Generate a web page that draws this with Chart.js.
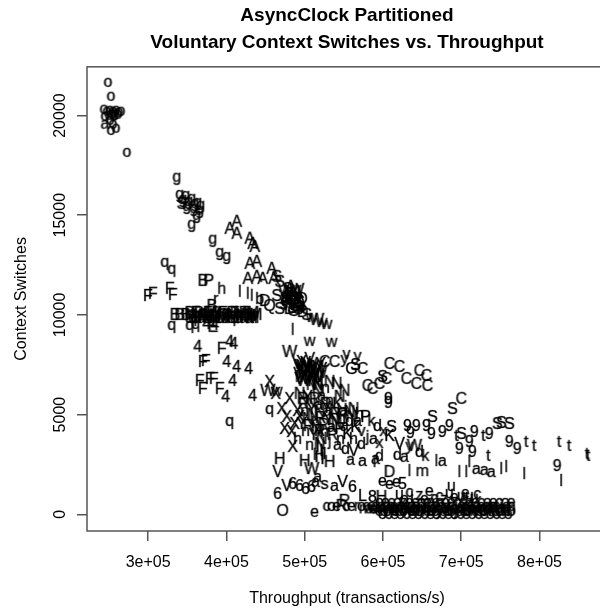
<!DOCTYPE html>
<html>
<head>
<meta charset="utf-8">
<script src="https://cdn.jsdelivr.net/npm/chart.js@4.4.0/dist/chart.umd.min.js"></script>
<style>
  html, body { margin: 0; padding: 0; background: #fff; overflow: hidden; }
  #wrap { width: 600px; height: 612px; overflow: hidden; }
</style>
</head>
<body>
<div id="wrap"><canvas id="chart" width="612" height="612"></canvas></div>
<script>
// axis ticks
const xTicks = [300000, 400000, 500000, 600000, 700000, 800000];
const xTickLabels = ['3e+05', '4e+05', '5e+05', '6e+05', '7e+05', '8e+05'];
const yTicks = [0, 5000, 10000, 15000, 20000];
const yTickLabels = ['0', '5000', '10000', '15000', '20000'];

// [throughput, context switches, plot symbol]
const fastRuns = [
  [248600,21640,'o'],[252400,20940,'o'],[243500,20290,'o'],[247300,20190,'o'],[251100,20240,'o'],
  [255000,20190,'o'],[258800,20240,'o'],[262600,20140,'o'],[244800,19940,'o'],[249900,19990,'o'],
  [253700,20040,'o'],[257500,19990,'o'],[261300,20040,'o'],[265200,20190,'o'],[251200,19740,'o'],
  [255000,19540,'o'],[258800,19340,'o'],[252400,19230,'o'],[272800,18130,'o'],[244800,19540,'a'],
  [256000,20100,'g']
];

const gRuns = [
  [336600,16880,'g'],[340400,16020,'g'],[344300,15770,'g'],[348100,15970,'g'],[351900,15670,'g'],
  [355700,15820,'g'],[359600,15570,'g'],[363400,15620,'g'],[343000,15520,'S'],[349400,15420,'g'],
  [358300,15320,'g'],[365900,15220,'g'],[367200,15470,'g'],[362100,14970,'g'],[355700,14520,'g'],
  [382500,13770,'g'],[391500,13110,'g'],[400400,12910,'g']
];

const leftRuns = [
  [321300,12610,'q'],[330200,12260,'q'],[330200,9450,'q'],[353200,9450,'q'],[360800,9500,'q'],
  [404200,4630,'q'],[455200,5230,'q'],
  [299600,10900,'F'],[306000,11010,'F'],[327700,11260,'F'],[331500,10950,'F'],[369800,7590,'F'],
  [373600,7640,'F'],[365900,6640,'F'],[378700,6740,'F'],[383800,6740,'F'],[369800,6240,'F'],
  [391500,6240,'F'],[394000,8250,'F'],[382500,9350,'E'],
  [363400,8350,'4'],[404200,8600,'4'],[409300,8500,'4'],[400400,7590,'4'],[413100,7340,'4'],
  [428400,7240,'4'],[408000,6640,'4'],[399100,5840,'4'],[433500,5890,'4'],[374900,9500,'4'],
  [385100,9450,'4'],
  [334100,9950,'B'],[340400,9950,'B'],[348100,9950,'B'],[369800,11660,'B'],[377400,11660,'P'],
  [386400,10750,'r'],[381300,10400,'B'],[394000,11260,'h'],[429700,9900,'M'],[437400,9950,'M']
];

const row10k = [
  [353200,10050,'B'],[357000,10050,'a'],[360800,10050,'F'],[364700,10050,'B'],[368500,10050,'q'],
  [372300,10050,'a'],[376100,10050,'F'],[380000,10050,'M'],[383800,10050,'a'],[387600,10050,'B'],
  [391500,10050,'r'],[395300,10050,'F'],[399100,10050,'q'],[402900,10050,'a'],[406800,10050,'B'],
  [410600,10050,'F'],[414400,10050,'a'],[418200,10050,'M'],[422100,10050,'F'],[425900,10050,'a'],
  [429700,10050,'l'],[433500,10050,'M'],
  [353200,9800,'a'],[357000,9800,'q'],[360800,9800,'B'],[364700,9800,'F'],[368500,9800,'a'],
  [372300,9800,'M'],[376100,9800,'B'],[380000,9800,'q'],[383800,9800,'F'],[387600,9800,'a'],
  [391500,9800,'B'],[395300,9800,'M'],[399100,9800,'a'],[402900,9800,'F'],[406800,9800,'q'],
  [410600,9800,'a'],[414400,9800,'B'],[418200,9800,'F'],[422100,9800,'a'],[425900,9800,'M'],
  [429700,9800,'a'],[433500,9800,'M'],[437400,9800,'l'],
  [355100,9930,'M'],[362700,9930,'a'],[370400,9930,'B'],[378000,9930,'a'],[385700,9930,'M'],
  [393300,9930,'F'],[401000,9930,'B'],[408600,9930,'M'],[416300,9930,'a'],[423900,9930,'B'],
  [431600,9930,'a']
];

const peakRuns = [
  [413100,14620,'A'],[404200,14270,'A'],[413100,14020,'A'],[429700,13770,'A'],[433500,13510,'A'],
  [436100,13360,'A'],[429700,12510,'A'],[438700,12610,'A'],[427200,11760,'A'],[438700,11860,'A'],
  [446300,11760,'A'],[457800,12260,'A'],[460300,11760,'A'],[464200,11860,'S'],[468000,11610,'S'],
  [417000,11110,'l'],[427200,11010,'l'],[432300,10910,'l'],[484600,9200,'l'],
  [442500,10750,'b'],[448900,10650,'D'],[455200,10400,'Q'],[464200,10900,'S'],[468000,10250,'S'],
  [475600,11160,'W'],[479500,11000,'b'],[483300,10850,'S'],[487100,10750,'Q'],[478200,10650,'A'],
  [483300,10500,'s'],[488400,10400,'G'],[492200,10250,'S'],[480700,10250,'D'],[475600,10750,'K'],
  [485800,11100,'W'],[490900,10900,'b'],[493500,10600,'S'],[473100,10500,'s'],[482000,11360,'A'],
  [489700,11200,'W'],[496000,10750,'Q'],[496000,10350,'s'],
  [476900,10950,'A'],[482000,10700,'S'],[487100,10950,'b'],[492200,10550,'Q'],[479500,10450,'W'],
  [484600,10300,'S'],[489700,10700,'A'],[474300,10850,'s'],[494800,10450,'b'],[485800,10150,'G'],
  [478200,11250,'S'],[490900,11100,'A'],
  [497300,10100,'D'],[502400,9950,'S'],[508800,9850,'w'],[515200,9700,'W'],[521600,9600,'w'],
  [527900,9500,'w']
];

const midRuns = [
  [506300,8650,'w'],[534300,8600,'w'],[480700,8090,'W'],[553400,7990,'v'],[567500,7890,'y'],
  [550900,7740,'y'],
  [490900,7490,'V'],[496000,7590,'Y'],[501100,7540,'V'],[506300,7440,'W'],[511400,7340,'V'],
  [516500,7340,'M'],[521600,7240,'V'],[493500,7240,'Y'],[498600,7140,'V'],[503700,7140,'W'],
  [508800,7040,'V'],[513900,6940,'Y'],[519000,6840,'V'],[496000,6840,'M'],[501100,6740,'V'],
  [506300,6640,'I'],[511400,6740,'V'],[516500,6540,'N'],[492200,6990,'V'],[520300,7490,'Y'],
  [506300,7740,'V'],[499900,7340,'W'],
  [493500,7390,'V'],[498600,7390,'W'],[503700,7340,'V'],[508800,7240,'Y'],[513900,7140,'V'],
  [519000,7040,'W'],[496000,7040,'V'],[501100,6940,'Y'],[506300,6840,'V'],[511400,6940,'M'],
  [516500,6740,'V'],[498600,6640,'W'],[508800,6440,'N'],[493500,6740,'V'],
  [531800,6590,'N'],[540800,6490,'N'],[550900,6140,'N'],[516500,6440,'N'],[526600,6290,'n'],
  [455200,6590,'X'],[464200,6140,'w'],[452700,6140,'W'],[480700,5730,'X'],[470600,5230,'X'],
  [477000,4830,'X'],[487100,4480,'X'],[474300,4230,'X'],[483300,4080,'X'],[462900,5990,'X'],
  [490900,5130,'X'],[484600,3330,'X']
];

const cloudRuns = [
  [493500,5990,'N'],[503700,5840,'Y'],[512600,5740,'R'],[521600,5890,'a'],[531800,5640,'n'],
  [542000,5490,'K'],[552200,5330,'j'],[562400,5230,'N'],[570000,4980,'h'],[577700,4830,'P'],
  [585300,4630,'k'],[593000,4380,'d'],[600600,4130,'x'],[498600,5490,'R'],[508800,5230,'Y'],
  [519000,5080,'N'],[529200,5130,'a'],[539400,4980,'R'],[547100,4730,'n'],[557300,4630,'d'],
  [564900,4330,'K'],[572600,4130,'v'],[580200,3830,'j'],[587900,3730,'a'],[595500,3530,'x'],
  [493500,4830,'X'],[503700,4730,'N'],[513900,4530,'h'],[524100,4430,'R'],[534300,4330,'a'],
  [544500,4230,'P'],[554700,3980,'K'],[562400,3730,'h'],[572600,3480,'d'],[501100,4130,'n'],
  [511400,3930,'Y'],[521600,3730,'N'],[531800,3630,'j'],[542000,3430,'a'],[552200,3230,'d'],
  [562400,3130,'V'],[490900,3730,'h'],[506300,3430,'n'],[519000,4130,'R'],[536900,4730,'N'],
  [549600,5130,'a'],[559800,4830,'N'],[526600,5490,'R'],[516500,6140,'N'],[544500,5840,'N'],
  [497300,5740,'R'],[507500,5590,'N'],[517700,5440,'a'],[527900,5290,'Y'],[538100,5190,'N'],
  [548300,4940,'R'],[499900,5130,'n'],[510100,4940,'N'],[520300,4780,'R'],[530500,4680,'Y'],
  [540700,4530,'N'],[550900,4380,'a'],[505000,4380,'R'],[515200,4230,'N'],[525400,4080,'h'],
  [535600,3930,'R'],[545800,3730,'n'],[496000,4480,'Y'],[557300,5080,'N'],[567500,4630,'a'],
  [516500,3330,'I'],[521600,3130,'I'],[517700,2930,'H'],[522800,2720,'I'],[519000,3480,'N'],
  [525400,2980,'I'],[515200,2820,'I']
];

const cRuns = [
  [525400,7590,'C'],[538100,7590,'C'],[559800,7240,'G'],[564900,7440,'S'],[573900,7240,'C'],
  [608300,7490,'C'],[621000,7340,'C'],[646600,7140,'C'],[655500,6890,'C'],[630000,6740,'C'],
  [642700,6490,'C'],[656800,6390,'C'],[580200,6390,'C'],[586600,6240,'C'],[595500,6490,'C'],
  [604500,6740,'C'],[599400,6840,'S'],[700100,5740,'C'],
  [688700,5230,'S'],[663100,4830,'S'],[610800,4330,'S'],[700100,3980,'S'],[746000,4480,'S'],
  [751200,4530,'S'],[761400,4480,'S'],
  [607000,5740,'9'],[607000,5540,'9'],[631300,4380,'9'],[642700,4380,'9'],[655500,4380,'9'],
  [661900,3980,'9'],[675900,4080,'9'],[684800,4380,'9'],[716700,4080,'9'],[735800,3980,'9'],
  [761400,3580,'9'],[771600,3230,'9'],[697600,3230,'9'],[714200,3080,'9'],[822600,2370,'9'],
  [635100,4030,'9'],[710300,3580,'9'],
  [693800,3880,'t'],[783000,3580,'t'],[793200,3380,'t'],[825100,3580,'t'],[837900,3380,'t'],
  [860800,2980,'t'],[862100,2880,'t'],[734600,2880,'t'],[728200,3880,'t']
];

const lowRuns = [
  [780500,1970,'l'],[827700,1620,'l'],[751100,2220,'l'],[757500,2320,'l'],[697600,2070,'l'],
  [706500,2070,'l'],[633800,2120,'l'],[668200,2620,'l'],[710300,2570,'l'],[589200,2570,'l'],
  [719300,2220,'a'],[729500,2170,'a'],[738400,2070,'a'],[675900,2620,'a'],[558600,2680,'a'],
  [573900,2620,'a'],[590500,2720,'a'],[513900,1570,'a'],
  [646600,3080,'d'],[654200,2880,'k'],[595500,2880,'d'],[618500,2930,'d'],[627400,2830,'a'],
  [608300,3880,'K'],[633800,3380,'y'],[640200,3380,'W'],[621000,3480,'V'],
  [650400,2120,'m'],[608300,2070,'D'],
  [687400,1370,'u'],[700100,870,'u'],[710300,870,'u'],
  [599400,1620,'e'],[608300,1470,'e'],[617200,1570,'e'],[512600,70,'e'],[705200,1020,'e'],
  [471800,120,'O'],
  [468000,2720,'H'],[499900,2620,'H'],[531800,2570,'H'],
  [465400,2070,'V'],[548300,1570,'V'],[476900,1370,'V'],
  [465400,970,'6'],[484600,1470,'6'],[493500,1370,'6'],[561100,1320,'6'],[501100,1220,'6'],
  [508800,1320,'6'],
  [508800,2220,'W'],[516500,1820,'a'],[525400,1470,'s'],[538100,1370,'a'],
  [550900,620,'R'],[573900,870,'L'],[586600,820,'8'],[598100,820,'H'],[624900,1470,'5']
];

const floorRuns = [
  [621000,970,'u'],[633800,1070,'c'],[646600,920,'z'],[659300,1120,'e'],[672100,870,'c'],
  [684800,1020,'u'],[627400,720,'o'],[640200,770,'L'],[653000,720,'e'],[665700,770,'c'],
  [678400,720,'z'],[691200,820,'e'],[703900,720,'c'],[716700,770,'u'],[720500,970,'c'],
  [527900,370,'c'],[534300,370,'o'],[540700,370,'e'],[547100,370,'R'],[553400,370,'c'],
  [559800,370,'e'],[566200,370,'r'],[572600,370,'o'],[578900,370,'c'],[585300,370,'e'],
  [591700,370,'z'],[598100,370,'o'],[604500,370,'c'],[610800,370,'e'],[617200,370,'m'],
  [623600,370,'o'],[630000,370,'c'],[636300,370,'n'],[642700,370,'e'],[649100,370,'o'],
  [655500,370,'c'],[661900,370,'z'],[668200,370,'e'],[674600,370,'o'],[681000,370,'y'],
  [687400,370,'c'],[693800,370,'j'],[700100,370,'e'],[706500,370,'o'],[712900,370,'f'],
  [719300,370,'c'],[725600,370,'e'],[732000,370,'o'],[738400,370,'m'],[744800,370,'c'],
  [751200,370,'i'],[757500,370,'o'],[763900,370,'c'],
  [595500,120,'e'],[600600,120,'c'],[605700,120,'o'],[610800,120,'m'],[615900,120,'e'],
  [621000,120,'c'],[626100,120,'o'],[631200,120,'n'],[636300,120,'e'],[641400,120,'c'],
  [646600,120,'o'],[651700,120,'m'],[656800,120,'e'],[661900,120,'c'],[667000,120,'o'],
  [672100,120,'y'],[677200,120,'e'],[682300,120,'c'],[687400,120,'o'],[692500,120,'j'],
  [697700,120,'e'],[702800,120,'c'],[707800,120,'o'],[712900,120,'m'],[718000,120,'e'],
  [723100,120,'c'],[728200,120,'o'],[733300,120,'n'],[738400,120,'e'],[743500,120,'c'],
  [748600,120,'o'],[753700,120,'m'],[758800,120,'c'],[763900,120,'o'],
  [595500,570,'o'],[603200,570,'e'],[610800,570,'c'],[618500,570,'o'],[626100,570,'z'],
  [633800,570,'e'],[641400,570,'c'],[649100,570,'o'],[656800,570,'e'],[664400,570,'m'],
  [672100,570,'c'],[679700,570,'o'],[687400,570,'e'],[695000,570,'c'],[702700,570,'o'],
  [710300,570,'z'],[718000,570,'e'],[725600,570,'c'],[733300,570,'o'],[741000,570,'e'],
  [748600,570,'c'],[756300,570,'o'],[763900,570,'e'],
  [599400,-35,'o'],[607000,-35,'c'],[614700,-35,'e'],[622300,-35,'o'],[630000,-35,'c'],
  [637600,-35,'e'],[645300,-35,'o'],[652900,-35,'c'],[660600,-35,'e'],[668200,-35,'o'],
  [675900,-35,'c'],[683500,-35,'e'],[691200,-35,'o'],[698800,-35,'c'],[706500,-35,'e'],
  [714100,-35,'o'],[721800,-35,'c'],[729400,-35,'e'],[737000,-35,'o'],[744700,-35,'c'],
  [752300,-35,'e'],[760000,-35,'o'],
  [577700,250,'m'],[582900,250,'a'],[587900,250,'e'],[593000,250,'w'],[598100,250,'n'],
  [603200,250,'m'],[608300,250,'a'],[613400,250,'e'],[618500,250,'w'],[623600,250,'m'],
  [628700,250,'a'],[633800,250,'n'],[638900,250,'e'],[644100,250,'m'],[649100,250,'w'],
  [654200,250,'a'],[659300,250,'m'],[664400,250,'e'],[669500,250,'n'],[674600,250,'m'],
  [679700,250,'a'],[684800,250,'w'],[689900,250,'e'],[695000,250,'m'],[700100,250,'a'],
  [705200,250,'n'],[710300,250,'m'],[715400,250,'e'],[720500,250,'w'],[725600,250,'a'],
  [730800,250,'m'],[735800,250,'e'],[741000,250,'n'],[746100,250,'m'],[751200,250,'a'],
  [756300,250,'e'],[761400,250,'m']
];

const groups = [fastRuns, gRuns, leftRuns, row10k, peakRuns, midRuns, cloudRuns, cRuns, lowRuns, floorRuns];

// 글자 모양 점 (R pch 문자처럼)
const GLYPH_FONT = '16px "Liberation Sans", Arial, sans-serif';
const glyphCache = {};
function glyph(ch) {
  if (glyphCache[ch]) return glyphCache[ch];
  const c = document.createElement('canvas');
  let g = c.getContext('2d');
  g.font = GLYPH_FONT;
  const w = Math.ceil(g.measureText(ch).width) + 4;
  c.width = w;
  c.height = 22;
  g = c.getContext('2d');
  g.font = GLYPH_FONT;
  g.fillStyle = '#000';
  g.strokeStyle = 'rgba(0,0,0,0.55)';
  g.lineWidth = 0.6;
  g.textAlign = 'center';
  g.textBaseline = 'middle';
  g.fillText(ch, w / 2, 11);
  g.strokeText(ch, w / 2, 11);
  glyphCache[ch] = c;
  return c;
}

// plot box like R's bty="o"
const boxPlugin = {
  id: 'box',
  afterDraw(chart) {
    const a = chart.chartArea;
    const ctx = chart.ctx;
    ctx.save();
    ctx.strokeStyle = '#555';
    ctx.lineWidth = 1.5;
    ctx.strokeRect(a.left, a.top, a.right - a.left, a.bottom - a.top);
    ctx.restore();
  }
};

Chart.defaults.font.family = '"Liberation Sans", Arial, sans-serif';
Chart.defaults.color = '#000';

new Chart(document.getElementById('chart'), {
  type: 'scatter',
  data: {
    datasets: groups.map(g => ({
      data: g,
      pointStyle: ctx => glyph(ctx.raw ? ctx.raw[2] : 'o'),
      pointRadius: 3
    }))
  },
  options: {
    responsive: false,
    animation: false,
    layout: { padding: { right: 4 } },
    plugins: {
      legend: { display: false },
      tooltip: { enabled: false },
      title: {
        display: true,
        fullSize: false,
        text: ['AsyncClock Partitioned', 'Voluntary Context Switches vs. Throughput'],
        font: { size: 19, weight: 'bold', lineHeight: 1.39 },
        color: '#000',
        padding: { top: 3, bottom: 11 }
      }
    },
    scales: {
      x: {
        type: 'linear',
        min: 221800,
        max: 886300,
        afterBuildTicks: s => { s.ticks = xTicks.map(v => ({ value: v })); },
        afterFit: s => { s.height = 81; },
        ticks: {
          callback: v => xTickLabels[xTicks.indexOf(v)],
          font: { size: 16 },
          color: '#000',
          padding: 12,
          maxRotation: 0,
          autoSkip: false
        },
        grid: { drawOnChartArea: false, drawTicks: true, tickLength: 10, color: '#555', lineWidth: 1.5 },
        border: { display: false },
        title: {
          display: true,
          text: 'Throughput (transactions/s)',
          font: { size: 16 },
          color: '#000',
          padding: { top: 0, bottom: 4 }
        }
      },
      y: {
        type: 'linear',
        min: -838,
        max: 22443,
        afterBuildTicks: s => { s.ticks = yTicks.map(v => ({ value: v })); },
        afterFit: s => { s.width = 87; },
        ticks: {
          callback: v => yTickLabels[yTicks.indexOf(v)],
          font: { size: 16 },
          color: '#000',
          minRotation: 90,
          maxRotation: 90,
          crossAlign: 'center',
          padding: -6,
          autoSkip: false
        },
        grid: { drawOnChartArea: false, drawTicks: true, tickLength: 10, color: '#555', lineWidth: 1.5 },
        border: { display: false },
        title: {
          display: true,
          text: 'Context Switches',
          font: { size: 16 },
          color: '#000',
          padding: { top: 12, bottom: 0 }
        }
      }
    }
  },
  plugins: [boxPlugin]
});
</script>
</body>
</html>
